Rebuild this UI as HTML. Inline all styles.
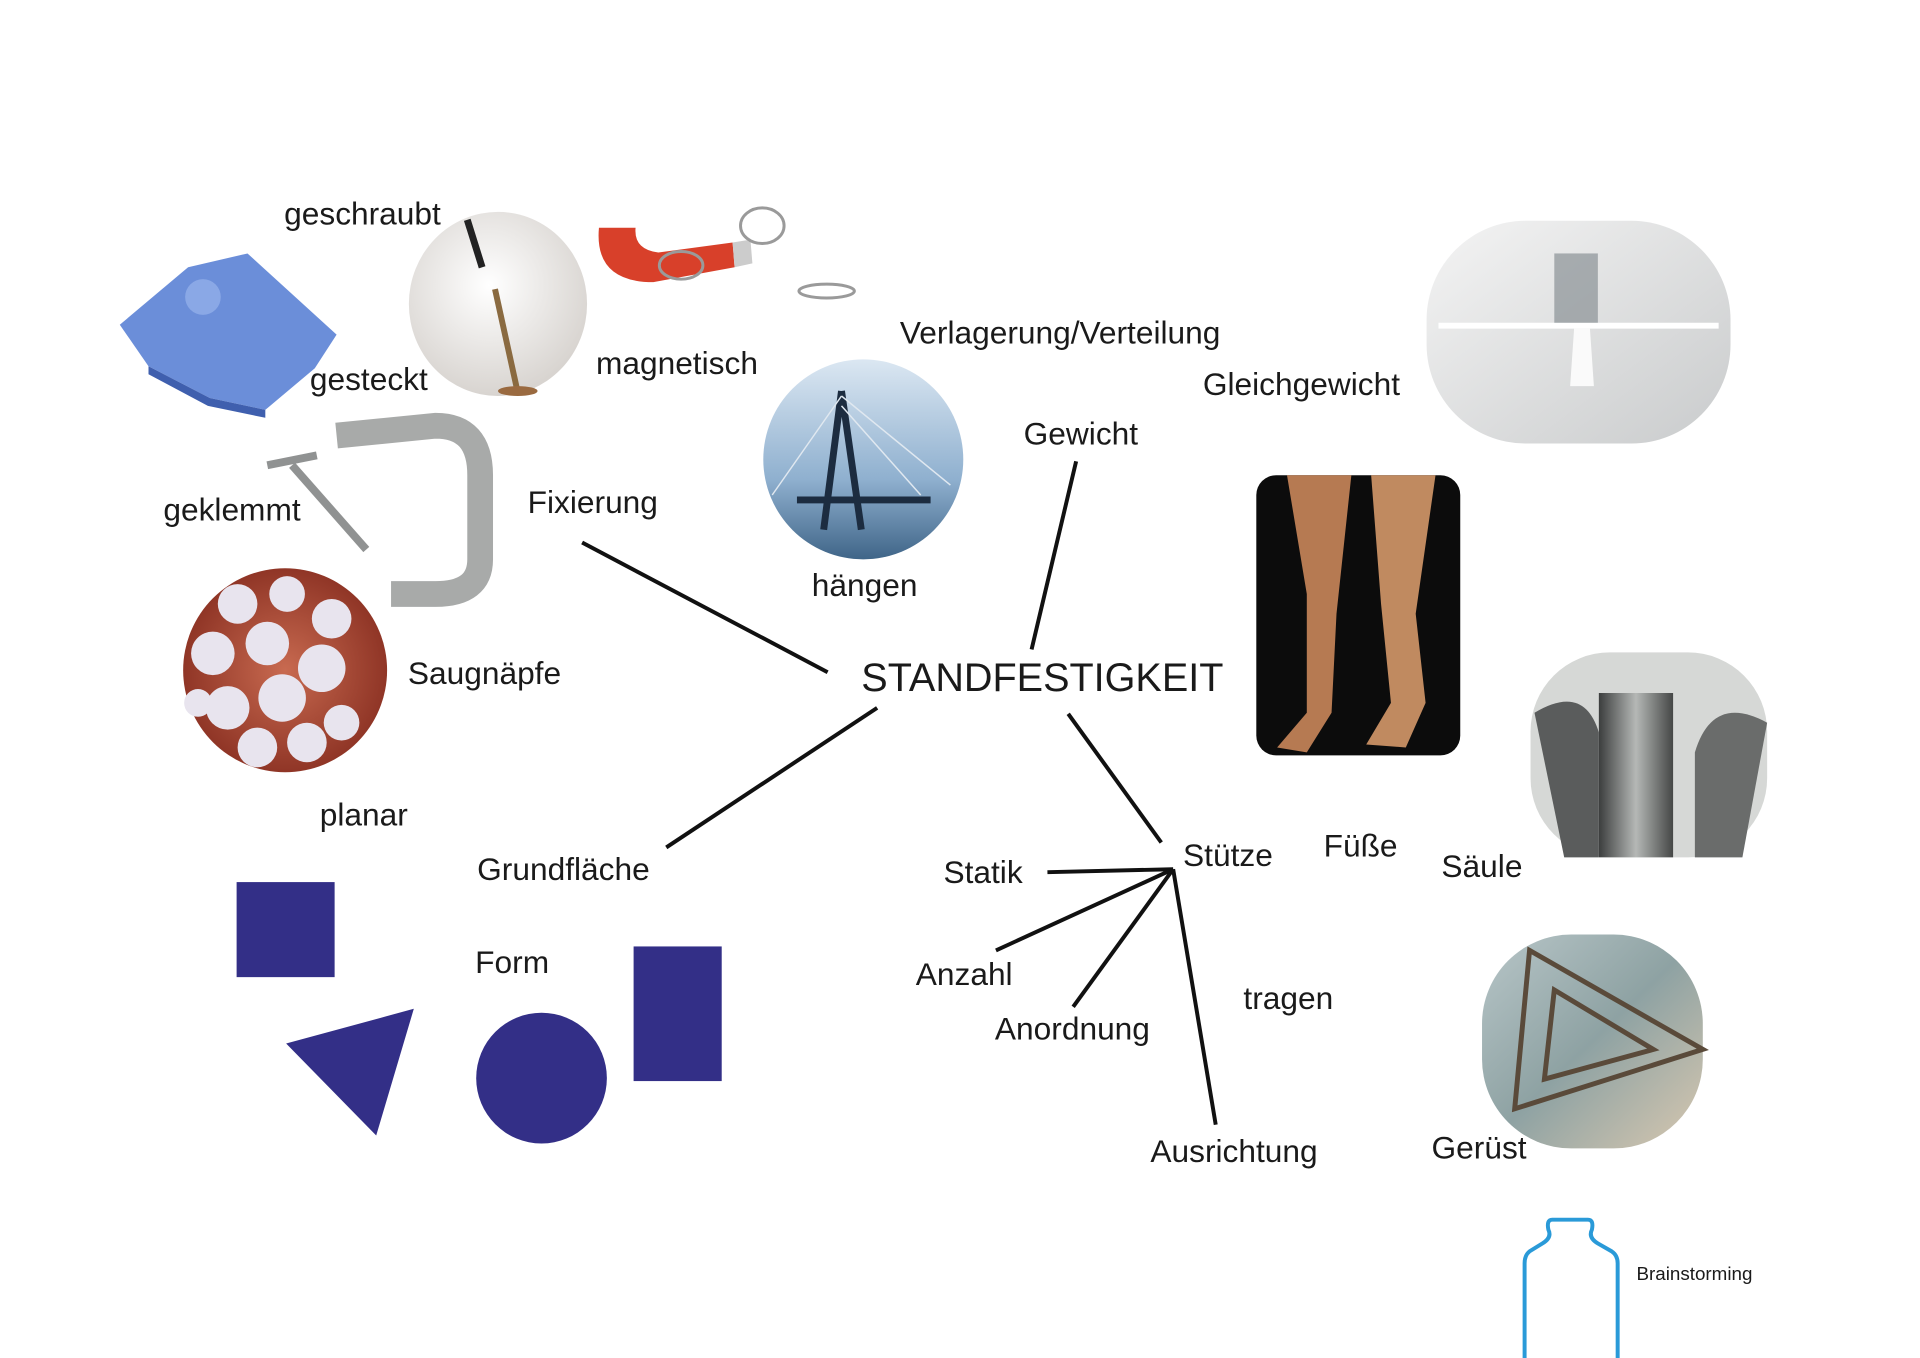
<!DOCTYPE html>
<html><head><meta charset="utf-8"><style>
html,body{margin:0;padding:0;background:#fff;}
svg{display:block}
text{font-family:"Liberation Sans",sans-serif;fill:#1a1a1a;}
</style></head><body>
<svg width="1920" height="1358" viewBox="0 0 1920 1358" xmlns="http://www.w3.org/2000/svg">
<defs>
<radialGradient id="screw" cx="45%" cy="40%" r="60%"><stop offset="0" stop-color="#ffffff"/><stop offset="1" stop-color="#d8d4d0"/></radialGradient>
<linearGradient id="sky" x1="0" y1="0" x2="0" y2="1"><stop offset="0" stop-color="#dbe7f2"/><stop offset="0.6" stop-color="#8fb0cf"/><stop offset="1" stop-color="#3f6588"/></linearGradient>
<linearGradient id="grey" x1="0" y1="0" x2="1" y2="1"><stop offset="0" stop-color="#f4f4f4"/><stop offset="1" stop-color="#c9cbcc"/></linearGradient>
<radialGradient id="oct" cx="50%" cy="50%" r="55%"><stop offset="0" stop-color="#c86a50"/><stop offset="1" stop-color="#8a3022"/></radialGradient>
<linearGradient id="silo" x1="0" y1="0" x2="1" y2="0"><stop offset="0" stop-color="#3c3e3e"/><stop offset="0.5" stop-color="#b5b8b6"/><stop offset="1" stop-color="#454746"/></linearGradient>
<linearGradient id="ger" x1="0" y1="0" x2="1" y2="1"><stop offset="0" stop-color="#b8c6c8"/><stop offset="0.5" stop-color="#8ea2a3"/><stop offset="1" stop-color="#d8c8b0"/></linearGradient>
</defs>
<g transform="scale(0.99)">
<!-- puzzle -->
<polygon points="121,328 190,270 250,256 340,338 318,372 268,414 212,402 150,370" fill="#6b8ed9"/>
<polygon points="150,370 212,402 268,414 268,422 210,410 150,378" fill="#3f5fae"/>
<circle cx="205" cy="300" r="18" fill="#8aa8e6"/>

<!-- screw -->
<ellipse cx="503" cy="307" rx="90" ry="93" fill="url(#screw)"/>
<line x1="472" y1="222" x2="487" y2="270" stroke="#222" stroke-width="7"/>
<line x1="500" y1="292" x2="522" y2="392" stroke="#8a6a40" stroke-width="6"/>
<ellipse cx="523" cy="395" rx="20" ry="5" fill="#9a6a40"/>

<!-- magnet -->
<path d="M605,230 Q600,285 660,285 L742,270 L740,245 L665,255 Q640,252 642,230 Z" fill="#d8402a"/>
<path d="M740,245 L742,270 L760,266 L758,242 Z" fill="#ccc"/>
<g stroke="#9a9a9a" stroke-width="3" fill="none">
<ellipse cx="770" cy="228" rx="22" ry="18"/><ellipse cx="688" cy="268" rx="22" ry="14"/><ellipse cx="835" cy="294" rx="28" ry="7"/>
</g>

<!-- bridge -->
<circle cx="872" cy="464" r="101" fill="url(#sky)"/>
<path d="M850,395 L832,535 M850,395 L870,535 M805,505 L940,505" stroke="#1c2c40" stroke-width="7" fill="none"/>
<g stroke="#e0e8f0" stroke-width="1.5"><line x1="850" y1="400" x2="780" y2="500"/><line x1="850" y1="400" x2="960" y2="490"/><line x1="850" y1="410" x2="930" y2="500"/></g>

<!-- balance -->
<rect x="1441" y="223" width="307" height="225" rx="100" fill="url(#grey)"/>
<line x1="1453" y1="329" x2="1736" y2="329" stroke="#fff" stroke-width="6"/>
<polygon points="1590,332 1606,332 1610,390 1586,390" fill="#fafafa"/>
<rect x="1570" y="256" width="44" height="70" fill="#8a9296" opacity="0.7"/>

<!-- legs -->
<rect x="1269" y="480" width="206" height="283" rx="20" fill="#0c0c0c"/>
<path d="M1300,480 L1365,480 L1350,620 L1345,720 L1320,760 L1290,755 L1320,720 L1320,600 Z" fill="#b67a52"/>
<path d="M1385,480 L1450,480 L1430,620 L1440,710 L1420,755 L1380,752 L1405,710 L1395,610 Z" fill="#c08a60"/>

<!-- silo -->
<rect x="1546" y="659" width="239" height="207" rx="80" fill="#d6d8d6"/>
<rect x="1615" y="700" width="75" height="166" fill="url(#silo)"/>
<path d="M1550,720 Q1600,690 1615,740 L1615,866 L1580,866 Z" fill="#5a5c5c"/>
<path d="M1785,730 Q1730,700 1712,760 L1712,866 L1760,866 Z" fill="#6a6c6b"/>

<!-- scaffold -->
<rect x="1497" y="944" width="223" height="216" rx="90" fill="url(#ger)"/>
<g stroke="#5a4a3a" stroke-width="5" fill="none"><polygon points="1545,960 1720,1060 1530,1120"/><polygon points="1570,1000 1670,1060 1560,1090"/></g>

<!-- clamp -->
<path d="M340,440 L440,430 Q485,430 485,480 L485,565 Q485,600 440,600 L395,600" stroke="#a8aaa9" stroke-width="26" fill="none"/>
<line x1="295" y1="470" x2="370" y2="555" stroke="#909292" stroke-width="8"/>
<line x1="270" y1="470" x2="320" y2="460" stroke="#909292" stroke-width="8"/>

<!-- octopus -->
<circle cx="288" cy="677" r="103" fill="url(#oct)"/>
<g fill="#e8e4ee">
<circle cx="240" cy="610" r="20"/><circle cx="290" cy="600" r="18"/><circle cx="335" cy="625" r="20"/><circle cx="215" cy="660" r="22"/><circle cx="270" cy="650" r="22"/><circle cx="325" cy="675" r="24"/><circle cx="230" cy="715" r="22"/><circle cx="285" cy="705" r="24"/><circle cx="345" cy="730" r="18"/><circle cx="260" cy="755" r="20"/><circle cx="310" cy="750" r="20"/><circle cx="200" cy="710" r="14"/>
</g>

<!-- lines -->
<g stroke="#111" stroke-width="4" fill="none">
<line x1="588" y1="548" x2="836" y2="679"/>
<line x1="1087" y1="466" x2="1042" y2="656"/>
<line x1="886" y1="715" x2="673" y2="856"/>
<line x1="1079" y1="721" x2="1173" y2="851"/>
<line x1="1185" y1="878" x2="1058" y2="881"/>
<line x1="1185" y1="878" x2="1006" y2="960"/>
<line x1="1185" y1="878" x2="1084" y2="1017"/>
<line x1="1185" y1="878" x2="1228" y2="1136"/>
</g>

<!-- shapes -->
<g fill="#332f87">
<rect x="239" y="891" width="99" height="96"/>
<polygon points="289,1054 418,1019 380,1147"/>
<circle cx="547" cy="1089" r="66"/>
<rect x="640" y="956" width="89" height="136"/>
</g>

<!-- bottle -->
<path d="M1568,1232 L1604,1232 Q1610,1232 1608,1242 Q1604,1250 1614,1256 L1628,1264 Q1634,1268 1634,1276 L1634,1372 M1568,1232 Q1562,1232 1564,1242 Q1568,1250 1558,1256 L1545,1264 Q1540,1268 1540,1276 L1540,1372" stroke="#2a9ad8" stroke-width="4" fill="none"/>

<g font-size="32">
<text x="287" y="227">geschraubt</text>
<text x="313" y="394">gesteckt</text>
<text x="602" y="378">magnetisch</text>
<text x="909" y="347">Verlagerung/Verteilung</text>
<text x="1215" y="399">Gleichgewicht</text>
<text x="1034" y="449">Gewicht</text>
<text x="165" y="526">geklemmt</text>
<text x="533" y="518">Fixierung</text>
<text x="820" y="602">hängen</text>
<text x="412" y="691">Saugnäpfe</text>
<text x="323" y="834">planar</text>
<text x="482" y="889">Grundfläche</text>
<text x="953" y="892">Statik</text>
<text x="1195" y="875">Stütze</text>
<text x="1337" y="865">Füße</text>
<text x="1456" y="886">Säule</text>
<text x="480" y="983">Form</text>
<text x="925" y="995">Anzahl</text>
<text x="1256" y="1019">tragen</text>
<text x="1005" y="1050">Anordnung</text>
<text x="1162" y="1174">Ausrichtung</text>
<text x="1446" y="1170">Gerüst</text>
</g>
<text x="870" y="698" font-size="40">STANDFESTIGKEIT</text>
<text x="1653" y="1293" font-size="19">Brainstorming</text>
</g>
</svg>
</body></html>
